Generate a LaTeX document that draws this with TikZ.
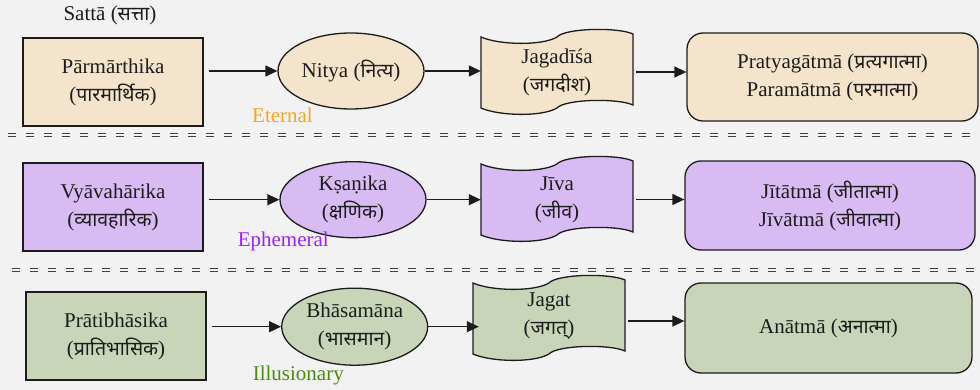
\documentclass[tikz,border=0pt]{standalone}
\usepackage{fontspec}
\setmainfont{Liberation Serif}
\newfontfamily\devfont[Script=Devanagari,Scale=0.93]{Noto Sans}
\newcommand{\dv}[1]{{\devfont #1}}
\usetikzlibrary{shapes.geometric,arrows.meta}

\definecolor{bgcol}{HTML}{F2F2F2}
\definecolor{fillA}{HTML}{F5E4CC}
\definecolor{fillB}{HTML}{D9BBF4}
\definecolor{fillC}{HTML}{C8D5B9}
\definecolor{ink}{HTML}{1C1C1C}
\definecolor{lblA}{HTML}{F5A623}
\definecolor{lblB}{HTML}{A020F0}
\definecolor{lblC}{HTML}{4E8A12}

% wavy "tape" outline, 152 wide and 71 high, placed by its upper left corner
\newcommand{\tapeshape}[2]{%
  \path[tapeline, fill=#2, shift={#1}]
    (0,0) .. controls (18,8) and (61,9) .. (76,0)
          .. controls (84,-9) and (137,-10) .. (152,-3)
    -- (152,68) .. controls (137,61) and (84,62) .. (76,71)
          .. controls (61,80) and (18,79) .. (0,71) -- cycle;}

\tikzset{
  every node/.style={text=ink, font=\fontsize{21}{28}\selectfont},
  levelbox/.style={draw=ink, line width=1.3pt, minimum width=180pt, minimum height=88pt, align=center, inner sep=0pt},
  modebox/.style={ellipse, draw=ink, line width=1.3pt, minimum width=146pt, minimum height=76pt, align=center, inner sep=0pt},
  tapetext/.style={minimum width=152pt, minimum height=71pt, align=center, inner sep=0pt},
  tapeline/.style={draw=ink, line width=1.3pt},
  selfbox/.style={draw=ink, line width=1.3pt, rounded corners=16pt, align=center, inner sep=0pt},
  flow/.style={draw=ink, line width=1.3pt, -{Triangle[length=12pt,width=11pt]}},
  sep/.style={draw=black!75, line width=1.2pt, dash pattern=on 8pt off 10pt},
}

\begin{document}
\begin{tikzpicture}[x=1pt,y=-1pt]
\useasboundingbox[fill=bgcol] (0,0) rectangle (980,390);

% ---- heading
\node (satta) at (110,15) {Sattā (\dv{सत्ता})};

% ---- row 1: the absolute
\node[levelbox, fill=fillA] (par) at (113,82) {Pārmārthika\\(\dv{पारमार्थिक})};
\node[modebox, fill=fillA] (nitya) at (351,71) {Nitya (\dv{नित्य})};
\tapeshape{(481,37)}{fillA}
\node[tapetext] (jagadisa) at (557,72) {Jagadīśa\\(\dv{जगदीश})};
\node[selfbox, fill=fillA, minimum width=291pt, minimum height=88pt] (pratyag) at (832.5,77)
  {Pratyagātmā (\dv{प्रत्यगात्मा})\\Paramātmā (\dv{परमात्मा})};
\node[text=lblA] (eternal) at (282.5,115) {Eternal};

\draw[flow, shorten <=5pt] (par.east |- nitya.west) -- (nitya.west);
\draw[flow] (nitya.east) -- (nitya.east -| jagadisa.west);
\draw[flow, shorten <=3pt] (jagadisa.east) -- (jagadisa.east -| pratyag.west);

% ---- separator 1
\coordinate (s1l) at (8,133.3);
\coordinate (s1r) at (980,133.3);
\coordinate (s2l) at (8,136.5);
\coordinate (s2r) at (980,136.5);
\draw[sep] (s1l) -- (s1r);
\draw[sep] (s2l) -- (s2r);

% ---- row 2: the empirical
\node[levelbox, fill=fillB] (vya) at (113,207) {Vyāvahārika\\(\dv{व्यावहारिक})};
\node[modebox, fill=fillB] (ksanika) at (353,199.7) {Kṣaṇika\\(\dv{क्षणिक})};
\tapeshape{(481,164)}{fillB}
\node[tapetext] (jiva) at (557,199.5) {Jīva\\(\dv{जीव})};
\node[selfbox, fill=fillB, minimum width=290pt, minimum height=89pt] (jita) at (830,205.5)
  {Jītātmā (\dv{जीतात्मा})\\Jīvātmā (\dv{जीवात्मा})};
\node[text=lblB] (ephemeral) at (283.3,241.7) {Ephemeral};

\draw[flow, shorten <=5pt] (vya.east |- ksanika.west) -- (ksanika.west);
\draw[flow] (ksanika.east) -- (ksanika.east -| jiva.west);
\draw[flow, shorten <=3pt] (jiva.east) -- (jiva.east -| jita.west);

% ---- separator 2
\coordinate (s3l) at (11.7,268.3);
\coordinate (s3r) at (980,268.3);
\coordinate (s4l) at (11.7,271.5);
\coordinate (s4r) at (980,271.5);
\draw[sep] (s3l) -- (s3r);
\draw[sep] (s4l) -- (s4r);

% ---- row 3: the illusory
\node[levelbox, fill=fillC] (prati) at (116,336) {Prātibhāsika\\(\dv{प्रातिभासिक})};
\node[modebox, fill=fillC, minimum height=77pt] (bhasa) at (354.7,326.7) {Bhāsamāna\\(\dv{भासमान})};
\tapeshape{(473,283)}{fillC}
\node[tapetext] (jagat) at (549,316) {Jagat\\(\dv{जगत्})};
\node[selfbox, fill=fillC, minimum width=287pt, minimum height=90pt] (anatma) at (828.5,328)
  {Anātmā (\dv{अनात्मा})};
\node[text=lblC] (illusion) at (298.3,375) {Illusionary};

\draw[flow, shorten <=5pt] (prati.east |- bhasa.west) -- (bhasa.west);
\draw[flow, shorten >=-6pt] (bhasa.east) -- (bhasa.east -| jagat.west);
\draw[flow, shorten <=3pt] ([yshift=-5pt]jagat.east) -- ([yshift=-5pt]jagat.east -| anatma.west);
\end{tikzpicture}
\end{document}
